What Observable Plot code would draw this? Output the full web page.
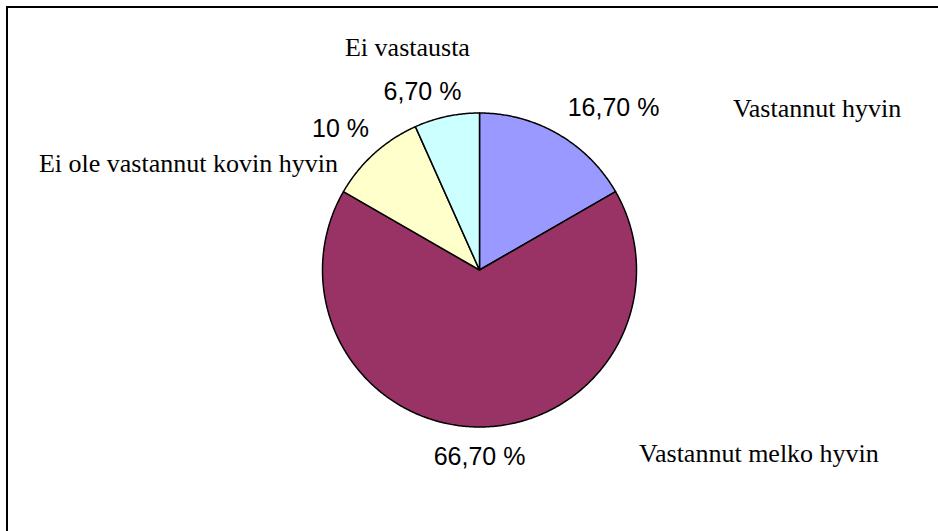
<!DOCTYPE html>
<html>
<head>
<meta charset="utf-8">
<script src="https://cdn.jsdelivr.net/npm/d3@7"></script>
<script src="https://cdn.jsdelivr.net/npm/@observablehq/plot@0.6"></script>
<style>
  html, body { margin: 0; padding: 0; background: #fff; }
  #wrap { position: relative; width: 938px; height: 531px; overflow: hidden; }
  #frame { position: absolute; left: 6px; top: 6px; width: 1000px; height: 1000px;
           border-top: 2px solid #000; border-left: 2px solid #000; box-sizing: border-box; pointer-events: none; }
  #chart { position: absolute; left: 0; top: 0; }
</style>
</head>
<body>
<div id="wrap"><div id="chart"></div><div id="frame"></div></div>
<script>
// Data
const categories = ["Vastannut hyvin", "Vastannut melko hyvin", "Ei ole vastannut kovin hyvin", "Ei vastausta"];
const values = [16.7, 66.7, 10, 6.7];
const valueLabels = ["16,70 %", "66,70 %", "10 %", "6,70 %"];
const colors = ["#9999FF", "#993366", "#FFFFCC", "#CCFFFF"];

// Layout (label anchor positions in pie-radius units, centre = 0,0)
const catLabelPos = [[2.15, 1.03], [1.78, -1.167], [-1.854, 0.676], [-0.459, 1.419]];
const valLabelPos = [[0.854, 1.029], [0, -1.188], [-0.885, 0.895], [-0.363, 1.131]];

const W = 938, H = 531, CX = 479, CY = 269.5, R = 157;

const arcs = d3.pie().sort(null).value(d => d)(values);

const marks = [];
arcs.forEach((a, i) => {
  const pts = [{x: 0, y: 0}];
  const n = Math.max(2, Math.ceil((a.endAngle - a.startAngle) / (Math.PI / 360)));
  for (let k = 0; k <= n; k++) {
    const t = a.startAngle + (a.endAngle - a.startAngle) * k / n;
    pts.push({x: Math.sin(t), y: Math.cos(t)});
  }
  pts.push({x: 0, y: 0});
  marks.push(Plot.line(pts, {x: "x", y: "y", fill: colors[i], stroke: "#000", strokeWidth: 1.5, strokeLinejoin: "round"}));
});

const catData = categories.map((c, i) => ({text: c, x: catLabelPos[i][0], y: catLabelPos[i][1]}));
const valData = valueLabels.map((c, i) => ({text: c, x: valLabelPos[i][0], y: valLabelPos[i][1]}));

marks.push(Plot.text(catData, {x: "x", y: "y", text: "text", fontSize: 26, fill: "#000",
  fontFamily: "'Liberation Serif', 'Times New Roman', serif", textAnchor: "middle", lineAnchor: "middle"}));
marks.push(Plot.text(valData, {x: "x", y: "y", text: "text", fontSize: 25, fill: "#000",
  fontFamily: "'Liberation Sans', Arial, sans-serif", textAnchor: "middle", lineAnchor: "middle"}));

const chart = Plot.plot({
  width: W, height: H,
  margin: 0,
  x: {domain: [-CX / R, (W - CX) / R], range: [0, W], axis: null},
  y: {domain: [-(H - CY) / R, CY / R], range: [H, 0], axis: null},
  style: {background: "transparent", overflow: "visible"},
  marks
});
document.getElementById("chart").appendChild(chart);
</script>
</body>
</html>
